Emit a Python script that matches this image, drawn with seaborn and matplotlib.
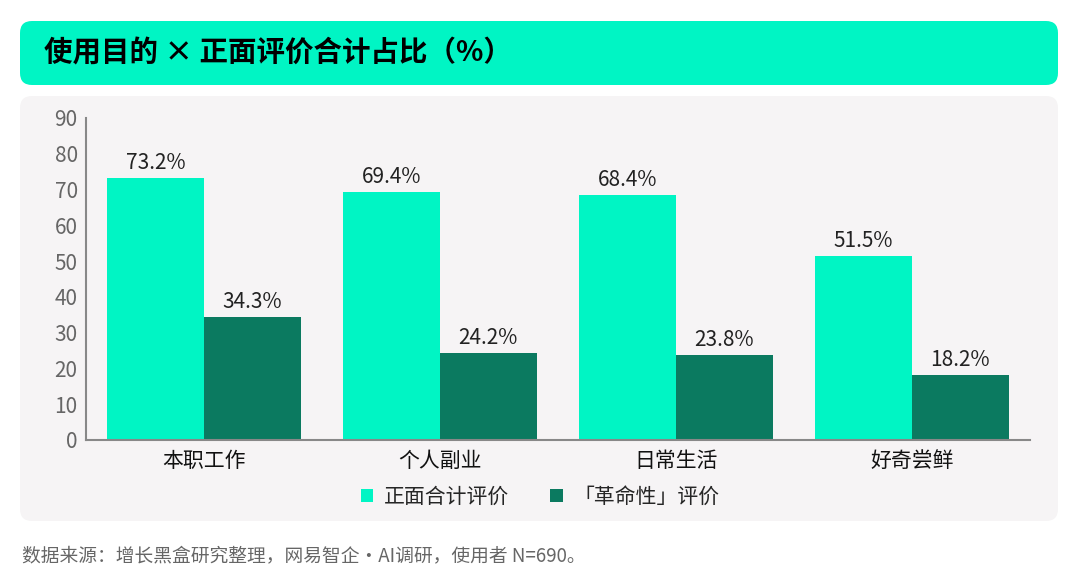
import matplotlib
matplotlib.use("Agg")
import matplotlib.pyplot as plt
import seaborn as sns
import pandas as pd
from matplotlib.patches import FancyBboxPatch, Patch

categories = ["本职工作", "个人副业", "日常生活", "好奇尝鲜"]
series_names = ["正面合计评价", "「革命性」评价"]
positive = [73.2, 69.4, 68.4, 51.5]
revolutionary = [34.3, 24.2, 23.8, 18.2]
yticks = [0, 10, 20, 30, 40, 50, 60, 70, 80, 90]
title = "使用目的 × 正面评价合计占比（%）"
footer = "数据来源：增长黑盒研究整理，网易智企·AI调研，使用者 N=690。"

LIGHT = "#00F5C4"
DARK = "#0B7A60"

sns.set_theme(style="white")
plt.rcParams["font.family"] = ["Noto Sans CJK SC", "DejaVu Sans"]

df = pd.DataFrame({
    "cat": categories * 2,
    "series": [series_names[0]] * 4 + [series_names[1]] * 4,
    "val": positive + revolutionary,
})

fig = plt.figure(figsize=(10.8, 5.88), dpi=100)
fig.patch.set_facecolor("white")

W, H = 1080, 588
def fbox(x0, y0, x1, y1, color, r):
    p = FancyBboxPatch((x0 / W, 1 - y1 / H), (x1 - x0) / W, (y1 - y0) / H,
                       boxstyle=f"round,pad=0,rounding_size={r / W}",
                       transform=fig.transFigure, facecolor=color,
                       edgecolor="none", zorder=-5, mutation_aspect=W / H)
    fig.patches.append(p)

fbox(20, 21, 1058, 85, LIGHT, 12)
fbox(20, 96, 1058, 521, "#F6F4F5", 12)

fig.text(44 / W, 1 - 53 / H, title, fontsize=20.5, fontweight="bold",
         color="black", va="center", ha="left")
fig.text(22 / W, 1 - 556 / H, footer, fontsize=13.5, color="#666666",
         va="center", ha="left")

ax = fig.add_axes([86 / W, 1 - 440 / H, (1030 - 86) / W, (440 - 118) / H])
ax.set_zorder(5)
ax.set_facecolor("none")
sns.barplot(data=df, x="cat", y="val", hue="series", order=categories,
            hue_order=series_names, palette=[LIGHT, DARK], width=0.82,
            dodge=True, gap=0, saturation=1, ax=ax, legend=False,
            linewidth=0, edgecolor="none")

for cont in ax.containers:
    ax.bar_label(cont, labels=[f"{v:.1f}%" for v in cont.datavalues],
                 padding=3, fontsize=15, color="#222222")

ax.set_ylim(0, 90)
ax.set_xlim(-0.5, len(categories) - 0.5)
ax.set_yticks(yticks)
ax.set_yticklabels([str(t) for t in yticks], fontsize=15, color="#666666")
ax.set_xticks(range(len(categories)))
ax.set_xticklabels(categories, fontsize=15, color="#111111")
ax.set_xticks([i - 0.5 for i in range(len(categories) + 1)], minor=True)
ax.tick_params(axis="x", which="major", length=0, pad=7)
ax.tick_params(axis="x", which="minor", length=4, width=1.2, color="#888888", direction="out")
ax.tick_params(axis="y", length=4, width=1.2, color="#888888", direction="out", pad=2)
ax.set_xlabel("")
ax.set_ylabel("")
for s in ["top", "right"]:
    ax.spines[s].set_visible(False)
for s in ["left", "bottom"]:
    ax.spines[s].set_color("#888888")
    ax.spines[s].set_linewidth(1.5)

handles = [Patch(facecolor=LIGHT, edgecolor="none"), Patch(facecolor=DARK, edgecolor="none")]
fig.legend(handles, series_names, loc="center", bbox_to_anchor=(540 / W, 1 - 497 / H),
           ncol=2, frameon=False, fontsize=15, handlelength=0.6, handleheight=0.6,
           handletextpad=0.5, columnspacing=2.0)

fig.savefig("out.png", dpi=100, facecolor="white")
